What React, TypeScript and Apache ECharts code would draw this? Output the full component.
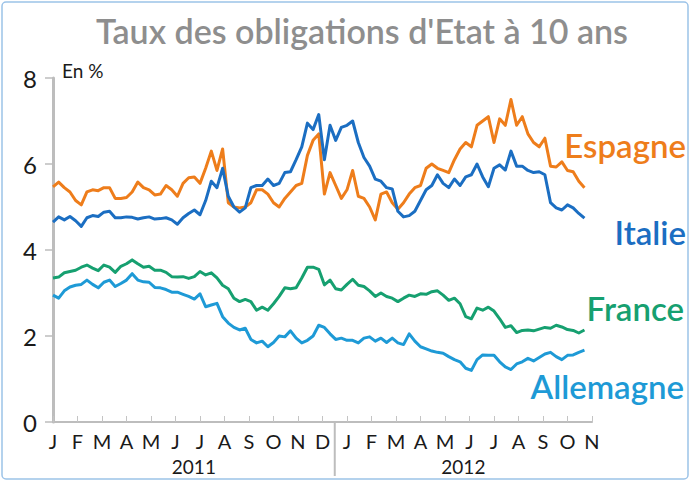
import React, { useEffect, useRef } from "react";
import * as echarts from "echarts";

// Weekly observations from the first week of January 2011 to mid-October 2012
const monthLabels = ["J", "F", "M", "A", "M", "J", "J", "A", "S", "O", "N", "D", "J", "F", "M", "A", "M", "J", "J", "A", "S", "O", "N"];
const yearLabels = ["2011", "2012"];
const seriesNames = ["Espagne", "Italie", "France", "Allemagne"];

const espagne = [
  5.47, 5.58, 5.45, 5.35, 5.15, 5.05, 5.35, 5.4, 5.38, 5.45,
  5.45, 5.2, 5.2, 5.22, 5.35, 5.58, 5.45, 5.4, 5.28, 5.3,
  5.5, 5.4, 5.25, 5.55, 5.68, 5.7, 5.55, 5.9, 6.3, 5.85,
  6.35, 5.1, 5.0, 4.98, 5.0, 5.1, 5.4, 5.4, 5.3, 5.1,
  5.0, 5.2, 5.35, 5.5, 5.55, 6.2, 6.55, 6.7, 5.3, 5.8,
  5.5, 5.2, 5.4, 5.85, 5.25, 5.2, 5.0, 4.7, 5.3, 5.35,
  5.1, 4.95, 5.1, 5.3, 5.45, 5.5, 5.9, 6.0, 5.9, 5.85,
  5.8, 6.1, 6.35, 6.5, 6.4, 6.9, 7.0, 7.1, 6.5, 7.05,
  6.9, 7.5, 6.9, 7.1, 6.7, 6.5, 6.4, 6.6, 5.95, 5.93,
  6.05, 5.85, 5.82, 5.6, 5.45,
];

const italie = [
  4.65, 4.77, 4.7, 4.78, 4.68, 4.55, 4.75, 4.8, 4.78, 4.88,
  4.9, 4.75, 4.75, 4.77, 4.76, 4.72, 4.75, 4.77, 4.72, 4.73,
  4.75, 4.7, 4.6, 4.75, 4.85, 4.93, 4.82, 5.15, 5.6, 5.45,
  5.9, 5.25, 5.0, 4.88, 4.98, 5.45, 5.5, 5.5, 5.65, 5.5,
  5.55, 5.8, 5.82, 6.1, 6.4, 6.95, 6.8, 7.15, 6.1, 6.9,
  6.55, 6.85, 6.9, 7.0, 6.5, 6.15, 5.95, 5.65, 5.6, 5.45,
  5.42, 4.9, 4.77, 4.8, 4.9, 5.15, 5.4, 5.5, 5.75, 5.55,
  5.45, 5.65, 5.5, 5.7, 5.75, 6.0, 5.7, 5.47, 5.9, 5.98,
  5.86, 6.3, 5.95, 5.95, 5.85, 5.8, 5.82, 5.75, 5.1, 4.98,
  4.93, 5.05, 4.98, 4.85, 4.74,
];

const france = [
  3.35, 3.37, 3.47, 3.5, 3.53, 3.6, 3.65, 3.58, 3.52, 3.65,
  3.6, 3.48, 3.62, 3.68, 3.77, 3.68, 3.6, 3.62, 3.53, 3.53,
  3.48, 3.38, 3.37, 3.38, 3.34, 3.38, 3.5, 3.42, 3.47, 3.35,
  3.18, 3.1, 2.88, 2.8, 2.85, 2.8, 2.6, 2.67, 2.6, 2.75,
  2.92, 3.12, 3.1, 3.12, 3.35, 3.6, 3.6, 3.55, 3.19, 3.3,
  3.1, 3.07, 3.2, 3.32, 3.18, 3.15, 3.05, 2.92, 3.0, 2.92,
  2.88, 2.8, 2.88, 2.95, 2.92, 2.98, 2.97, 3.03, 3.05, 2.95,
  2.83, 2.88, 2.75, 2.45, 2.4, 2.65, 2.6, 2.67, 2.58, 2.4,
  2.2, 2.24, 2.08, 2.13, 2.14, 2.12, 2.16, 2.2, 2.18, 2.25,
  2.21, 2.15, 2.13, 2.07, 2.14,
];

const allemagne = [
  2.95, 2.88, 3.05, 3.14, 3.18, 3.2, 3.3, 3.2, 3.12, 3.25,
  3.3, 3.15, 3.22, 3.3, 3.45, 3.3, 3.26, 3.25, 3.13, 3.12,
  3.08, 3.02, 3.02, 2.97, 2.92, 2.86, 2.98, 2.68, 2.72, 2.76,
  2.45, 2.3, 2.2, 2.14, 2.18, 1.92, 1.84, 1.88, 1.75, 1.85,
  2.0, 1.98, 2.12, 1.95, 1.84, 1.9, 2.0, 2.25, 2.2, 2.05,
  1.92, 1.95, 1.9, 1.9, 1.84, 1.95, 1.98, 1.88, 1.95, 1.85,
  1.95, 1.84, 1.8, 2.05, 1.88, 1.75, 1.7, 1.65, 1.62, 1.6,
  1.52, 1.45, 1.4, 1.25, 1.2, 1.45, 1.56, 1.55, 1.55, 1.4,
  1.28, 1.22, 1.35, 1.4, 1.48, 1.42, 1.5, 1.58, 1.62, 1.52,
  1.45, 1.55, 1.56, 1.62, 1.67,
];

const colors = ["#EE7D1B", "#1B6EC2", "#16A070", "#1E9AD6"];
const FONT = "Lato, 'Open Sans', sans-serif";
const WEEK_IN_MONTHS = 12 / 52;

export default function App() {
  const ref = useRef<HTMLDivElement>(null);

  useEffect(() => {
    if (!ref.current) return;
    const chart = echarts.init(ref.current, null, { renderer: "svg" });
    const toPairs = (arr: number[]) => arr.map((v, i) => [i * WEEK_IN_MONTHS, v]);
    const allData = [espagne, italie, france, allemagne];
    const drawOrder = [1, 0, 3, 2];

    chart.setOption({
      animation: false,
      textStyle: { fontFamily: FONT },
      grid: { left: 53, right: 103, top: 78, bottom: 61 },
      xAxis: {
        type: "value",
        min: 0,
        max: 22,
        interval: 1,
        axisLine: { show: true, lineStyle: { color: "#bdbdbd", width: 2 } },
        axisTick: { show: true, inside: true, length: 6, lineStyle: { color: "#c4c4c4", width: 1 } },
        axisLabel: {
          formatter: (v: number) => monthLabels[Math.round(v)] ?? "",
          fontSize: 20,
          color: "#1a1a1a",
          margin: 9,
          fontFamily: FONT,
        },
        splitLine: { show: false },
      },
      yAxis: {
        type: "value",
        min: 0,
        max: 8,
        interval: 2,
        axisLine: { show: true, lineStyle: { color: "#bdbdbd", width: 3 } },
        axisTick: { show: true, length: 8, lineStyle: { color: "#bdbdbd", width: 1.5 } },
        axisLabel: { fontSize: 24, color: "#1a1a1a", margin: 16, fontFamily: FONT },
        splitLine: { show: false },
      },
      series: drawOrder.map((k) => ({
        name: seriesNames[k],
        type: "line",
        data: toPairs(allData[k]),
        showSymbol: false,
        symbol: "none",
        lineStyle: { color: colors[k], width: 3, join: "round" },
        z: 2 + k,
      })),
    });

    const sepX = chart.convertToPixel({ xAxisIndex: 0 }, 11.5) as number;
    const x2011 = chart.convertToPixel({ xAxisIndex: 0 }, 5.75) as number;
    const x2012 = chart.convertToPixel({ xAxisIndex: 0 }, 16.75) as number;
    const axisY = chart.convertToPixel({ yAxisIndex: 0 }, 0) as number;

    const seriesLabelPos = [
      { x: 686, y: 145 },
      { x: 686, y: 232 },
      { x: 684, y: 308 },
      { x: 684, y: 386 },
    ];

    chart.setOption({
      graphic: [
        {
          type: "rect",
          shape: { x: 2, y: 2, width: 686, height: 477, r: 4 },
          style: { fill: "none", stroke: "#9cc3e8", lineWidth: 1.5 },
          silent: true,
        },
        {
          type: "text",
          x: 362,
          y: 30,
          style: {
            text: "Taux des obligations d'Etat à 10 ans",
            fill: "#8e8e8e",
            font: `600 34px ${FONT}`,
            textAlign: "center",
            textVerticalAlign: "middle",
          },
        },
        {
          type: "text",
          x: 62,
          y: 70,
          style: {
            text: "En %",
            fill: "#1a1a1a",
            font: `19px ${FONT}`,
            textAlign: "left",
            textVerticalAlign: "middle",
          },
        },
        {
          type: "line",
          shape: { x1: sepX, y1: axisY, x2: sepX, y2: 476 },
          style: { stroke: "#bdbdbd", lineWidth: 2 },
        },
        ...yearLabels.map((t, i) => ({
          type: "text",
          x: i === 0 ? x2011 : x2012,
          y: 466,
          style: {
            text: t,
            fill: "#1a1a1a",
            font: `19px ${FONT}`,
            textAlign: "center",
            textVerticalAlign: "middle",
          },
        })),
        ...seriesNames.map((n, k) => ({
          type: "text",
          x: seriesLabelPos[k].x,
          y: seriesLabelPos[k].y,
          style: {
            text: n,
            fill: colors[k],
            font: `600 33px ${FONT}`,
            textAlign: "right",
            textVerticalAlign: "middle",
          },
        })),
      ],
    });

    return () => chart.dispose();
  }, []);

  return (
    <div
      ref={ref}
      style={{ position: "fixed", left: 0, top: 0, width: 695, height: 483, background: "#fff" }}
    />
  );
}
